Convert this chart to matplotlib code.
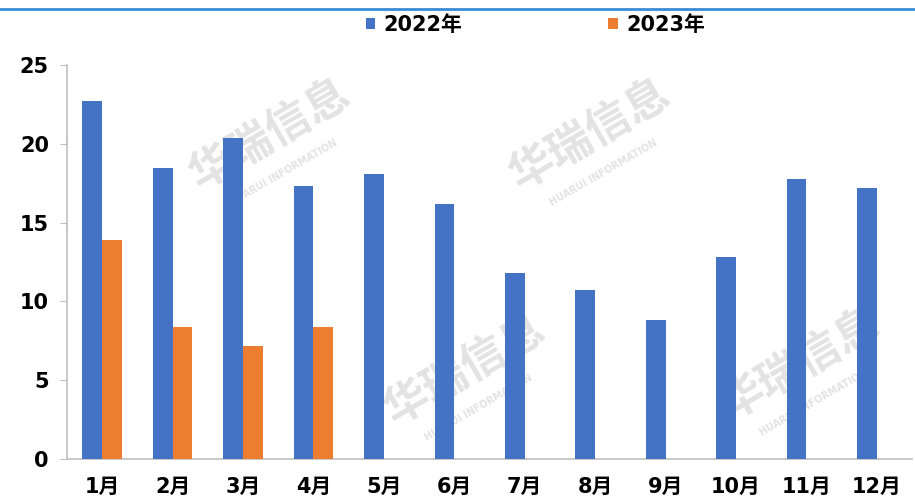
import numpy as np
import matplotlib.pyplot as plt
from matplotlib.lines import Line2D

plt.rcParams['font.family'] = ['DejaVu Sans', 'Noto Sans CJK SC']
plt.rcParams['font.weight'] = 'bold'

months = ['1月', '2月', '3月', '4月', '5月', '6月', '7月', '8月', '9月', '10月', '11月', '12月']
v2022 = [22.7, 18.5, 20.4, 17.3, 18.1, 16.2, 11.8, 10.7, 8.8, 12.8, 17.8, 17.2]
v2023 = [13.9, 8.4, 7.2, 8.4]
series_names = ['2022年', '2023年']

blue = '#4472C4'
orange = '#ED7D31'

fig = plt.figure(figsize=(9.15, 4.99), dpi=100)
ax = fig.add_axes([0.0732, 0.080, 0.9235, 0.7896])

x = np.arange(len(months))
w = 0.28
ax.bar(x - w / 2, v2022, width=w, color=blue, label=series_names[0], zorder=3)
ax.bar(x[:len(v2023)] + w / 2, v2023, width=w, color=orange, label=series_names[1], zorder=3)

ax.set_xlim(-0.5, len(months) - 0.5)
ax.set_ylim(0, 25)
ax.set_yticks([0, 5, 10, 15, 20, 25])
ax.set_xticks(x)
ax.set_xticklabels(months)
ax.tick_params(axis='y', length=5, color='#bfbfbf', pad=8, labelsize=15)
ax.tick_params(axis='x', length=0, pad=13, labelsize=15)
for s in ['top', 'right']:
    ax.spines[s].set_visible(False)
for s in ['left', 'bottom']:
    ax.spines[s].set_color('#bfbfbf')
    ax.spines[s].set_linewidth(1.2)

# faint watermark stamps, kept under the bars
for cx, cy in [(270, 135), (590, 135), (465, 370), (800, 365)]:
    ax.text(cx / 915, 1 - cy / 499, '华瑞信息', fontsize=32, color='#e3e3e3',
            rotation=30, ha='center', va='center', zorder=1,
            transform=fig.transFigure, clip_on=False)
    ax.text((cx + 14) / 915, 1 - (cy + 38) / 499, 'HUARUI INFORMATION', fontsize=7,
            color='#e3e3e3', rotation=30, ha='center', va='center', zorder=1,
            transform=fig.transFigure, clip_on=False)

fig.legend(loc='center', bbox_to_anchor=(0.585, 0.95), ncol=2, frameon=False,
           fontsize=15, handlelength=0.45, handleheight=0.45, handletextpad=0.4,
           columnspacing=7.0)

# blue rule across the top
fig.add_artist(Line2D([0, 1], [0.982, 0.982], color='#3b8ad9', linewidth=2, transform=fig.transFigure))

fig.savefig('out.png', dpi=100)
